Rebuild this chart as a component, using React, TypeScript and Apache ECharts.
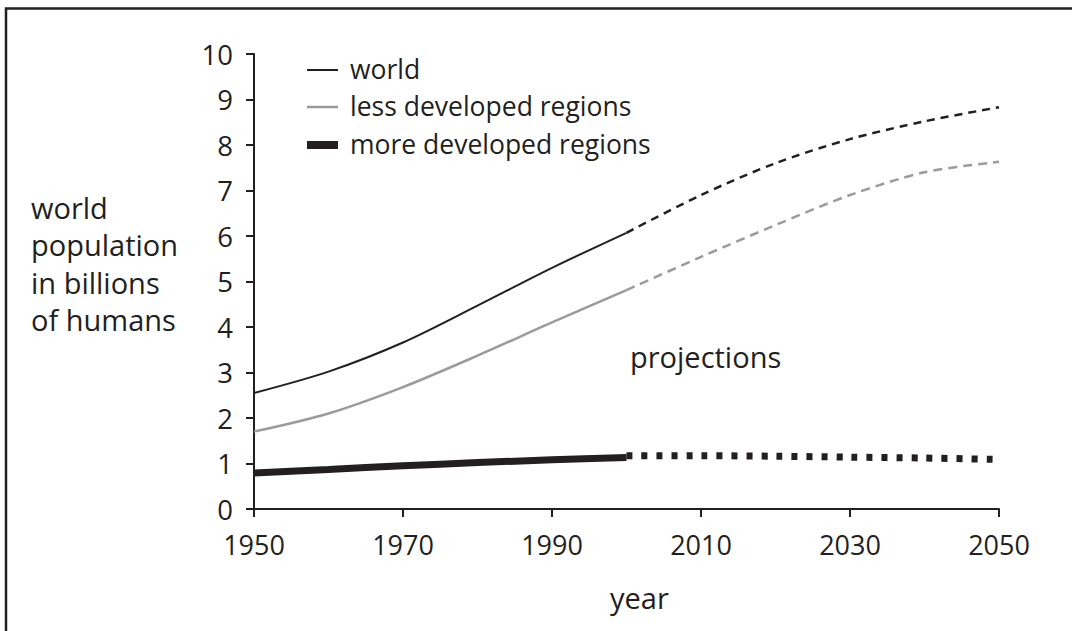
import React, { useEffect, useRef } from "react";
import * as echarts from "echarts";

const histYears = [1950, 1960, 1970, 1980, 1990, 2000];
const projYears = [2000, 2010, 2020, 2030, 2040, 2050];
const worldHist = [2.55, 3.02, 3.66, 4.47, 5.3, 6.07];
const worldProj = [6.07, 6.9, 7.6, 8.13, 8.52, 8.83];
const lessHist = [1.7, 2.1, 2.68, 3.37, 4.1, 4.81];
const lessProj = [4.81, 5.54, 6.24, 6.9, 7.4, 7.63];
const moreHist = [0.79, 0.87, 0.95, 1.02, 1.08, 1.13];
const moreProj = [1.17, 1.17, 1.16, 1.14, 1.12, 1.09];
const xTicks = [1950, 1970, 1990, 2010, 2030, 2050];
const legendLabels = ["world", "less developed regions", "more developed regions"];
const yAxisTitle = ["world", "population", "in billions", "of humans"];

const INK = "#231f20";
const GRAY = "#9b9b9b";
const FONT = "Open Sans";
const FS = 29;
const LFS = 26.5;

function pairs(xs: number[], ys: number[]) {
  return xs.map((x, i) => [x, ys[i]]);
}

export default function App() {
  const ref = useRef<HTMLDivElement>(null);
  useEffect(() => {
    if (!ref.current) return;
    const chart = echarts.init(ref.current, undefined, { renderer: "svg" });
    const line = (data: number[][], color: string, width: number, type: any, z = 2) => ({
      type: "line",
      data,
      smooth: 0.3,
      symbol: "none",
      z,
      lineStyle: { color, width, type, cap: "butt" },
    });
    chart.setOption({
      animation: false,
      backgroundColor: "#ffffff",
      grid: { left: 254, top: 54, right: 73, bottom: 122 },
      xAxis: {
        type: "value",
        min: 1950,
        max: 2050,
        splitLine: { show: false },
        axisLine: { onZero: false, lineStyle: { color: INK, width: 2 } },
        axisTick: { customValues: xTicks, length: 8, lineStyle: { color: INK, width: 2 } },
        axisLabel: {
          customValues: xTicks,
          formatter: (v: number) => String(v),
          color: INK,
          fontFamily: FONT,
          fontSize: 27,
          margin: 22,
        },
      },
      yAxis: {
        type: "value",
        min: 0,
        max: 10,
        interval: 1,
        splitLine: { show: false },
        axisLine: { show: true, lineStyle: { color: INK, width: 2 } },
        axisTick: { show: true, length: 8, lineStyle: { color: INK, width: 2 } },
        axisLabel: { color: INK, fontFamily: FONT, fontSize: 27.5, margin: 21 },
      },
      series: [
        line(pairs(histYears, worldHist), INK, 2, "solid"),
        line(pairs(projYears, worldProj), INK, 2.5, [8, 6]),
        line(pairs(histYears, lessHist), GRAY, 2.5, "solid"),
        line(pairs(projYears, lessProj), GRAY, 2.5, [9, 6]),
        line(pairs(histYears, moreHist), INK, 7, "solid"),
        line(pairs(projYears, moreProj), INK, 7, [6, 9]),
      ],
      graphic: [
        {
          type: "rect",
          shape: { x: 6, y: 8.5, width: 1200, height: 800 },
          style: { fill: "none", stroke: INK, lineWidth: 2.5 },
          silent: true,
        },
        { type: "line", shape: { x1: 307, y1: 70, x2: 338, y2: 70 }, style: { stroke: INK, lineWidth: 2 } },
        { type: "line", shape: { x1: 307, y1: 107, x2: 338, y2: 107 }, style: { stroke: GRAY, lineWidth: 2.5 } },
        { type: "line", shape: { x1: 307, y1: 145, x2: 338, y2: 145 }, style: { stroke: INK, lineWidth: 8 } },
        ...legendLabels.map((t, i) => ({
          type: "text",
          x: 350,
          y: [69, 106, 144][i],
          style: { text: t, fill: INK, font: `${LFS}px "${FONT}"`, textVerticalAlign: "middle" },
        })),
        ...yAxisTitle.map((t, i) => ({
          type: "text",
          x: 31,
          y: 207 + i * 37.5,
          style: { text: t, fill: INK, font: `${FS}px "${FONT}"`, textVerticalAlign: "middle" },
        })),
        {
          type: "text",
          x: 630,
          y: 356,
          style: { text: "projections", fill: INK, font: `${FS}px "${FONT}"`, textVerticalAlign: "middle" },
        },
        {
          type: "text",
          x: 610,
          y: 597,
          style: { text: "year", fill: INK, font: `${FS}px "${FONT}"`, textVerticalAlign: "middle" },
        },
      ],
    });
    return () => chart.dispose();
  }, []);
  return (
    <div
      ref={ref}
      style={{ position: "fixed", left: 0, top: 0, width: 1072, height: 631, background: "#fff" }}
    />
  );
}
